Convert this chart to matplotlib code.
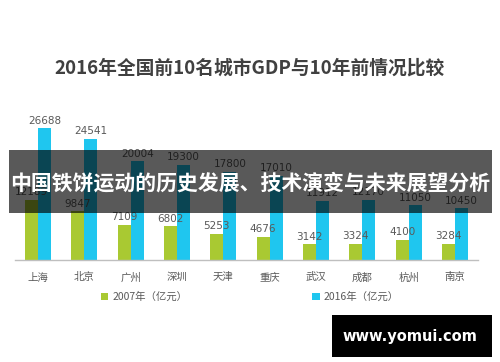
import matplotlib
matplotlib.use("Agg")
import matplotlib.pyplot as plt
import numpy as np
from matplotlib.patches import Rectangle

plt.rcParams['font.family'] = ['Noto Sans CJK SC', 'DejaVu Sans']

cities = ["上海", "北京", "广州", "深圳", "天津", "重庆", "武汉", "成都", "杭州", "南京"]
gdp_2007 = [12189, 9847, 7109, 6802, 5253, 4676, 3142, 3324, 4100, 3284]
gdp_2016 = [26688, 24541, 20004, 19300, 17800, 17010, 11912, 12170, 11050, 10450]
series_names = ["2007年（亿元）", "2016年（亿元）"]
title = "2016年全国前10名城市GDP与10年前情况比较"
banner = "中国铁饼运动的历史发展、技术演变与未来展望分析"
watermark = "www.yomui.com"

green = "#a9c932"
cyan = "#1fc6ef"
label_gray = "#595959"

fig = plt.figure(figsize=(5.0, 3.62), dpi=100)
fig.patch.set_facecolor("white")
ax = fig.add_axes([0.03, 0.2818, 0.926, 0.4088])

x = np.arange(len(cities))
w = 0.28
b1 = ax.bar(x - w / 2, gdp_2007, width=w, color=green, label=series_names[0])
b2 = ax.bar(x + w / 2, gdp_2016, width=w, color=cyan, label=series_names[1])

for bars, vals in ((b1, gdp_2007), (b2, gdp_2016)):
    for rect, v in zip(bars, vals):
        ax.annotate(str(v), (rect.get_x() + rect.get_width() / 2, v),
                    xytext=(0, 2), textcoords="offset points",
                    ha="center", va="bottom", fontsize=7.5, color=label_gray,
                    family=['DejaVu Sans'])

ax.set_xlim(-0.5, len(cities) - 0.5)
ax.set_ylim(0, 30000)
ax.set_xticks(x)
ax.set_xticklabels(cities, fontsize=7.5, color=label_gray)
ax.tick_params(axis="x", length=0, pad=9)
ax.set_yticks([])
for s in ("top", "right", "left"):
    ax.spines[s].set_visible(False)
ax.spines["bottom"].set_color("#bfbfbf")
ax.spines["bottom"].set_linewidth(1.0)

fig.text(0.5, 1 - 68 / 362, title, ha="center", va="center", fontsize=13.5,
         fontweight="bold", color="#404040")

leg = fig.legend(handles=[b1, b2], labels=series_names, loc="center",
                 bbox_to_anchor=(0.5, 1 - 297 / 362), ncol=2, frameon=False,
                 fontsize=7.5, handlelength=0.7, handleheight=0.7,
                 columnspacing=12, handletextpad=0.4)
for t in leg.get_texts():
    t.set_color(label_gray)

# banner overlay
fig.patches.append(Rectangle((9 / 500, 1 - 213 / 362), 483 / 500, 63 / 362,
                             transform=fig.transFigure, facecolor="black",
                             alpha=0.65, edgecolor="none", zorder=5))
fig.text(0.5, 1 - 183 / 362, banner, ha="center", va="center", fontsize=15,
         fontweight="bold", color="white", zorder=6)

# watermark
fig.patches.append(Rectangle((332 / 500, 1 - 357 / 362), 160 / 500, 42 / 362,
                             transform=fig.transFigure, facecolor="black",
                             edgecolor="none", zorder=5))
fig.text(410 / 500, 1 - 337 / 362, watermark, ha="center", va="center",
         fontsize=10.5, fontweight="bold", color="white", zorder=6,
         family=['DejaVu Sans'])

fig.savefig("out.png", dpi=100, facecolor="white")
